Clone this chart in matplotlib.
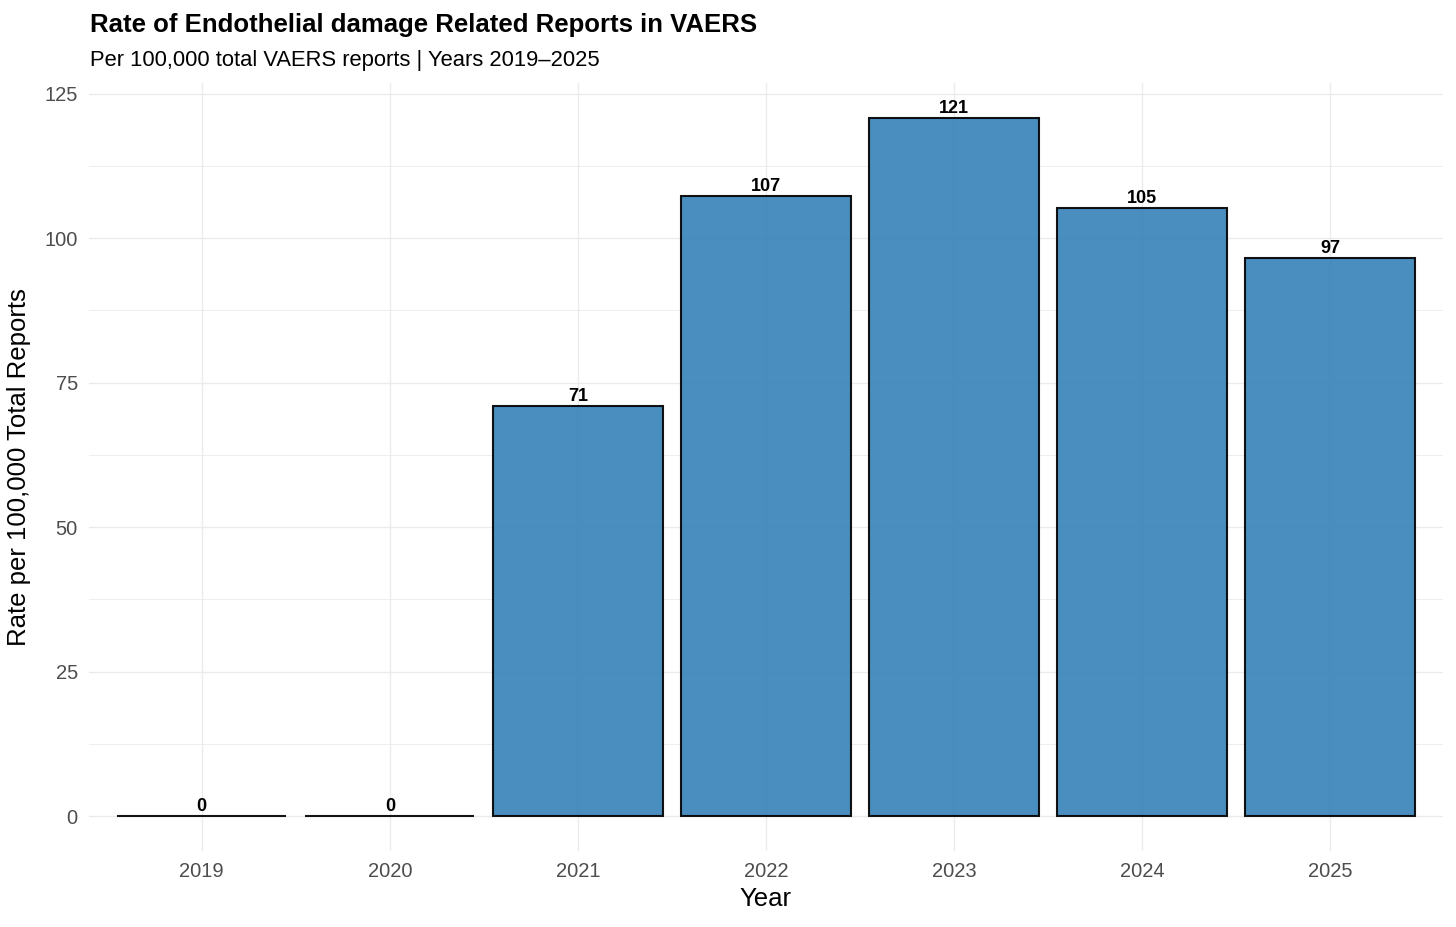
import numpy as np
import matplotlib.pyplot as plt

plt.rcParams['font.family'] = ['Liberation Sans', 'DejaVu Sans']

years = ['2019', '2020', '2021', '2022', '2023', '2024', '2025']
rates = [0.0, 0.0, 70.9, 107.3, 120.8, 105.2, 96.6]

fig = plt.figure(figsize=(14.56, 9.27), dpi=100)
ax = fig.add_axes([0.0611, 0.082, 0.9299, 0.8285])

x = np.arange(len(years))
ax.bar(x, rates, width=0.9, color='#3a84bb', alpha=0.92,
       edgecolor='black', linewidth=1.5, zorder=3)
for xi, r in zip(x, rates):
    ax.text(xi, r + 0.9, f'{r:.0f}', ha='center', va='baseline',
            fontsize=13, fontweight='bold', color='black', zorder=4)

ymax = max(rates)
ax.set_ylim(-0.05 * ymax, ymax * 1.05)
ax.set_xlim(-0.6, len(years) - 0.4)
ax.set_xticks(x)
ax.set_xticklabels(years)
ax.set_yticks([0, 25, 50, 75, 100, 125])
ax.set_yticks([12.5, 37.5, 62.5, 87.5, 112.5], minor=True)
ax.grid(True, which='major', color='#EBEBEB', linewidth=1.0, zorder=0)
ax.grid(True, which='minor', axis='y', color='#EBEBEB', linewidth=0.6, zorder=0)
ax.tick_params(axis='both', which='both', length=0, labelsize=14.5,
               labelcolor='#4D4D4D', pad=8)
for s in ax.spines.values():
    s.set_visible(False)

ax.set_xlabel('Year', fontsize=18.5, labelpad=4)
ax.set_ylabel('Rate per 100,000 Total Reports', fontsize=18.5, labelpad=10)

fig.text(0.0618, 0.9655, 'Rate of Endothelial damage Related Reports in VAERS',
         fontsize=18.5, fontweight='bold', va='baseline', ha='left')
fig.text(0.0618, 0.929, 'Per 100,000 total VAERS reports | Years 2019\u20132025',
         fontsize=15.8, va='baseline', ha='left')

fig.savefig('out.png', dpi=100)
